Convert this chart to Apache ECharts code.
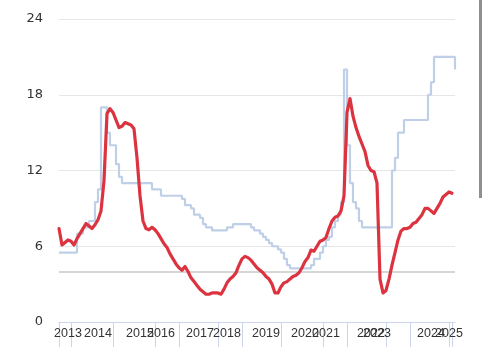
<!DOCTYPE html>
<html><head><meta charset="utf-8">
<script src="https://cdn.jsdelivr.net/npm/echarts@6/dist/echarts.min.js"></script>
<style>html,body{margin:0;padding:0;background:#fff}#c{width:485px;height:360px}</style>
</head><body><div id="c"></div>
<script>
// Inflation (red line), one value per category position
const inflation = [
  7.4, 6.1, 6.3, 6.5, 6.4, 6.1, 6.6, 7.0, 7.4, 7.8,
  7.6, 7.4, 7.7, 8.1, 8.8, 11.2, 16.5, 16.9, 16.6, 16.0,
  15.4, 15.5, 15.8, 15.7, 15.6, 15.3, 13.0, 10.0, 8.0, 7.4,
  7.3, 7.5, 7.3, 7.0, 6.6, 6.2, 5.9, 5.4, 5.0, 4.6,
  4.3, 4.1, 4.4, 4.0, 3.5, 3.2, 2.9, 2.6, 2.4, 2.2,
  2.2, 2.3, 2.3, 2.3, 2.2, 2.6, 3.1, 3.4, 3.6, 3.9,
  4.5, 5.0, 5.2, 5.1, 4.9, 4.6, 4.3, 4.1, 3.9, 3.6,
  3.4, 3.0, 2.3, 2.3, 2.8, 3.1, 3.2, 3.4, 3.6, 3.7,
  3.9, 4.3, 4.8, 5.1, 5.7, 5.6, 6.0, 6.4, 6.5, 6.7,
  7.4, 8.0, 8.3, 8.4, 8.8, 10.0, 16.6, 17.7, 16.3, 15.4,
  14.7, 14.1, 13.5, 12.4, 12.0, 11.9, 11.0, 3.4, 2.3, 2.5,
  3.4, 4.5, 5.5, 6.5, 7.2, 7.4, 7.4, 7.5, 7.8, 7.9,
  8.2, 8.5, 9.0, 9.0, 8.8, 8.6, 9.0, 9.4, 9.9, 10.1,
  10.3, 10.2, null
];
// Key rate (blue step line)
const keyRate = [
  5.5, 5.5, 5.5, 5.5, 5.5, 5.5, 7.0, 7.0, 7.5, 7.5,
  8.0, 8.0, 9.5, 10.5, 17, 17, 15, 14, 14, 12.5,
  11.5, 11, 11, 11, 11, 11, 11, 11, 11, 11,
  11, 10.5, 10.5, 10.5, 10, 10, 10, 10, 10, 10,
  10, 9.75, 9.25, 9.25, 9.0, 8.5, 8.5, 8.25, 7.75, 7.5,
  7.5, 7.25, 7.25, 7.25, 7.25, 7.25, 7.5, 7.5, 7.75, 7.75,
  7.75, 7.75, 7.75, 7.75, 7.5, 7.25, 7.25, 7.0, 6.75, 6.5,
  6.25, 6.0, 6.0, 5.75, 5.5, 5.0, 4.5, 4.25, 4.25, 4.25,
  4.25, 4.25, 4.25, 4.25, 4.5, 5.0, 5.0, 5.5, 6.0, 6.5,
  6.75, 7.5, 8.0, 8.5, 9.5, 20, 14, 11, 9.5, 9.0,
  8.0, 7.5, 7.5, 7.5, 7.5, 7.5, 7.5, 7.5, 7.5, 7.5,
  7.5, 12, 13, 15, 15, 16, 16, 16, 16, 16,
  16, 16, 16, 18, 19, 21, 21, 21, 21, 21,
  21, 21, 20
];
const targetValue = 4;
const yearLabels = ['2013','2014','2015','2016','2017','2018','2019','2020','2021','2022','2023','2024','2025'];
const yearLabelIdx = [3, 13, 27, 34, 47, 56, 69, 82, 89, 104, 106, 124, 130];
const tickIdx = [0, 4, 18, 32, 40, 53, 61, 74, 88, 96, 109, 117, 130, 131];
const yTicks = { min: 0, max: 24, interval: 6 };

const categories = keyRate.map((_, i) => String(i));
const labelMapMain = {};
const labelMapLast = {};
yearLabelIdx.forEach((idx, k) => {
  if (k === yearLabelIdx.length - 1) labelMapLast[idx] = yearLabels[k];
  else labelMapMain[idx] = yearLabels[k];
});
const tickSet = new Set(tickIdx);
const labelStyle = { color: '#333', fontSize: 12.5, fontFamily: 'Liberation Sans', margin: 5 };

const chart = echarts.init(document.getElementById('c'));
chart.setOption({
  animation: false,
  backgroundColor: '#ffffff',
  grid: { left: 59, right: 30, top: 19, bottom: 38, containLabel: false },
  xAxis: [{
    type: 'category',
    data: categories,
    boundaryGap: false,
    axisLine: { show: true, lineStyle: { color: '#ccd6eb', width: 1 } },
    axisTick: { show: true, length: 25, lineStyle: { color: '#ccd6eb', width: 1 },
      interval: (i) => tickSet.has(i) },
    axisLabel: Object.assign({
      interval: (i) => labelMapMain[i] !== undefined,
      formatter: (v, i) => labelMapMain[i] || '',
      showMinLabel: true, showMaxLabel: true
    }, labelStyle),
    splitLine: { show: false }
  }, {
    type: 'category',
    position: 'bottom',
    data: categories,
    boundaryGap: false,
    axisLine: { show: false }, axisTick: { show: false }, splitLine: { show: false },
    axisLabel: Object.assign({
      interval: (i) => labelMapLast[i] !== undefined,
      formatter: (v, i) => labelMapLast[i] || '',
      showMinLabel: true, showMaxLabel: true
    }, labelStyle)
  }],
  yAxis: {
    type: 'value', min: yTicks.min, max: yTicks.max, interval: yTicks.interval,
    axisLine: { show: false }, axisTick: { show: false },
    axisLabel: { color: '#333', fontSize: 13, fontFamily: 'DejaVu Sans', margin: 16 },
    splitLine: { lineStyle: { color: '#e6e6e6', width: 1 } }
  },
  series: [
    {
      name: 'Key rate', type: 'line', step: 'end', data: keyRate, xAxisIndex: 0,
      symbol: 'none', lineStyle: { color: '#bfcfe7', width: 2.2 }, z: 2,
      markLine: {
        silent: true, symbol: 'none', label: { show: false },
        lineStyle: { color: '#c8c8c8', width: 1.6, type: 'solid' },
        data: [{ yAxis: targetValue }], z: 1
      }
    },
    {
      name: 'Inflation', type: 'line', data: inflation, symbol: 'none', xAxisIndex: 0,
      lineStyle: { color: '#dc3340', width: 3.2, join: 'round', cap: 'round' }, z: 3
    }
  ],
  graphic: [
    { type: 'rect', left: 479, top: 0, shape: { width: 3, height: 198 }, style: { fill: '#8f8f8f' } }
  ]
});
</script></body></html>
